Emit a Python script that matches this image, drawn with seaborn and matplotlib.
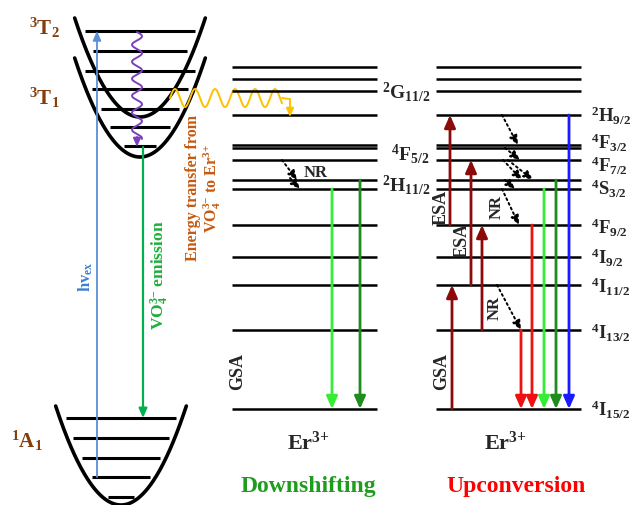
import numpy as np
import matplotlib
matplotlib.use("Agg")
import matplotlib.pyplot as plt
import seaborn as sns

# ---- data (diagram heights above the 4I15/2 ground level) ----
er_levels = [0, 79, 124, 152, 184, 220, 229, 249, 261, 264, 294, 318, 330, 342]

ds_labels = ["$^{2}$G$_{11/2}$", "$^{4}$F$_{5/2}$", "$^{2}$H$_{11/2}$"]
ds_label_h = [318, 256, 225]

uc_labels = ["$^{2}$H$_{9/2}$", "$^{4}$F$_{3/2}$", "$^{4}$F$_{7/2}$", "$^{4}$S$_{3/2}$",
             "$^{4}$F$_{9/2}$", "$^{4}$I$_{9/2}$", "$^{4}$I$_{11/2}$", "$^{4}$I$_{13/2}$",
             "$^{4}$I$_{15/2}$"]
uc_label_h = [294, 267, 244, 221, 182, 152, 123, 77, 0]

# downshifting emissions (start level, colour)
ds_emission_from = [220, 229]
ds_emission_col = ["#33ee33", "#1e8c1e"]

# upconversion: absorption (from, to), emission (from, colour), non-radiative (from, to)
uc_abs = [(0, 124), (184, 294), (124, 249), (79, 184)]
uc_emission_from = [79, 184, 220, 229, 294]
uc_emission_col = ["#ee1111", "#ee1111", "#33ee33", "#1e8c1e", "#1a1aff"]
uc_nr = [(294, 264), (261, 249), (249, 229), (249, 229), (229, 220), (220, 184), (124, 79)]

# VO4 host states
vo4_states = ["$^{3}$T$_{2}$", "$^{3}$T$_{1}$", "$^{1}$A$_{1}$"]

sns.set_theme(style="white")
plt.rcParams["font.family"] = ["Liberation Serif", "DejaVu Serif"]
plt.rcParams["font.weight"] = "bold"
plt.rcParams["mathtext.fontset"] = "custom"
plt.rcParams["mathtext.rm"] = "Liberation Serif:bold"
plt.rcParams["mathtext.bf"] = "Liberation Serif:bold"
plt.rcParams["mathtext.it"] = "Liberation Serif:italic:bold"
plt.rcParams["mathtext.default"] = "rm"

fig = plt.figure(figsize=(6.33, 5.06), dpi=100)
ax = fig.add_axes([0, 0, 1, 1])
ax.set_xlim(0, 633)
ax.set_ylim(506, 0)
ax.axis("off")

GROUND = 410
DEPTH = 99


def ypx(h):
    return GROUND - h


def arrow(x0, y0, x1, y1, color, lw=2.0, ls="-", ms=15):
    ax.annotate("", xy=(x1, y1), xytext=(x0, y0),
                arrowprops=dict(arrowstyle="-|>,head_length=0.5,head_width=0.22",
                                color=color, lw=lw, linestyle=ls,
                                shrinkA=0, shrinkB=0, mutation_scale=ms))


# ---- VO4 parabolas ----
k = 0.0232
parab = [(140, 118), (140, 158), (121, 506)]
for xc, ymin in parab:
    hw = np.sqrt(DEPTH / k)
    xs = np.linspace(xc - hw, xc + hw, 200)
    ys = ymin - k * (xs - xc) ** 2
    sns.lineplot(x=xs, y=ys, sort=False, color="black", lw=2.6, ax=ax)

for y in [32, 52, 72, 90, 110, 128, 147]:
    hw = 0
    for xc, ymin in parab[:2]:
        if ymin - DEPTH <= y < ymin:
            hw = max(hw, np.sqrt((ymin - y) / k))
    ax.hlines(y, 140 - hw + 6, 140 + hw - 6, color="black", lw=2.2)
for y in [419, 439, 459, 478, 498]:
    hw = np.sqrt((506 - y) / k)
    ax.hlines(y, 121 - hw + 6, 121 + hw - 6, color="black", lw=2.2)

ax.text(44, 28, vo4_states[0], color="#843c0c", fontsize=15, ha="center", va="center")
ax.text(44, 98, vo4_states[1], color="#843c0c", fontsize=15, ha="center", va="center")
ax.text(27, 441, vo4_states[2], color="#843c0c", fontsize=15, ha="center", va="center")

# excitation
arrow(97, 478, 97, 32, "#5b8fd8", lw=1.3, ms=11)
ax.text(86, 277, "hv$_{ex}$", color="#3f7fd6", fontsize=12, rotation=90, ha="center", va="center")

# purple relaxation wave
yy = np.linspace(33, 140, 300)
ax.plot(137 + 5 * np.sin(2 * np.pi * (yy - 33) / 17), yy, color="#7a3fbf", lw=1.4)
arrow(137, 138, 137, 148, "#7a3fbf", lw=1.4, ms=10)

# VO4 emission
arrow(143, 148, 143, 419, "#00b050", lw=1.6, ms=11)
ax.text(160, 275, "VO$_{4}^{3{-}}$ emission", color="#1fae3c", fontsize=12.5, rotation=90,
        ha="center", va="center")

# energy transfer wave
xx = np.linspace(170, 282, 300)
ax.plot(xx, 99 - 9 * np.sin(2 * np.pi * (xx - 170) / 20), color="#ffc000", lw=1.4)
ax.plot([282, 290, 290], [99, 100, 108], color="#ffc000", lw=1.4)
arrow(290, 106, 290, 118, "#ffc000", lw=1.4, ms=10)
ax.text(204, 188, "Energy transfer from\nVO$_{4}^{3{-}}$ to Er$^{3{+}}$", color="#c55a11",
        fontsize=11.5, rotation=90, ha="center", va="center", linespacing=1.1)

# ---- Er3+ levels, downshifting and upconversion ----
for h in er_levels:
    ax.hlines(ypx(h), 232, 377, color="black", lw=1.8)
    ax.hlines(ypx(h), 436, 581, color="black", lw=1.8)

for lab, h in zip(ds_labels, ds_label_h):
    x0 = 391 if "F" in lab else 382
    ax.text(x0, ypx(h), lab, fontsize=14, ha="left", va="center")
for lab, h in zip(uc_labels, uc_label_h):
    ax.text(591, ypx(h), lab, fontsize=13.5, ha="left", va="center")

# downshifting
arrow(282, ypx(249), 297, ypx(229), "black", lw=1.4, ls=":", ms=11)
arrow(290, ypx(231), 300, ypx(220), "black", lw=1.4, ls=":", ms=11)
ax.text(316, 173, "NR", fontsize=12, ha="center", va="center")
for x, h, c in zip([332, 360], ds_emission_from, ds_emission_col):
    arrow(x, ypx(h), x, GROUND, c, lw=2.0)
ax.text(238, 372, "GSA", fontsize=13, rotation=90, ha="center", va="center")
ax.text(308, 443, "Er$^{3{+}}$", fontsize=16, ha="center", va="center")
ax.text(308, 487, "Downshifting", fontsize=17, color="#1e9c1e", ha="center", va="center")

# upconversion
abs_x = [452, 450, 471, 482]
for x, (h0, h1) in zip(abs_x, uc_abs):
    arrow(x, ypx(h0), x, ypx(h1), "#8b0a0a", lw=2.0)
ax.text(442, 372, "GSA", fontsize=13, rotation=90, ha="center", va="center")
ax.text(441, 207, "ESA", fontsize=13, rotation=90, ha="center", va="center")
ax.text(462, 240, "ESA", fontsize=13, rotation=90, ha="center", va="center")

nr_x = [(502, 518), (505, 520), (503, 522), (508, 533), (505, 515), (502, 519), (497, 521)]
for (x0, x1), (h0, h1) in zip(nr_x, uc_nr):
    arrow(x0, ypx(h0), x1, ypx(h1), "black", lw=1.4, ls=":", ms=11)
ax.text(497, 207, "NR", fontsize=12, rotation=90, ha="center", va="center")
ax.text(495, 308, "NR", fontsize=12, rotation=90, ha="center", va="center")

em_x = [521, 532, 544, 556, 569]
for x, h, c in zip(em_x, uc_emission_from, uc_emission_col):
    arrow(x, ypx(h), x, GROUND, c, lw=2.0)
ax.text(505, 443, "Er$^{3{+}}$", fontsize=16, ha="center", va="center")
ax.text(516, 487, "Upconversion", fontsize=17, color="#ff0000", ha="center", va="center")

fig.savefig("out.png", dpi=100)
